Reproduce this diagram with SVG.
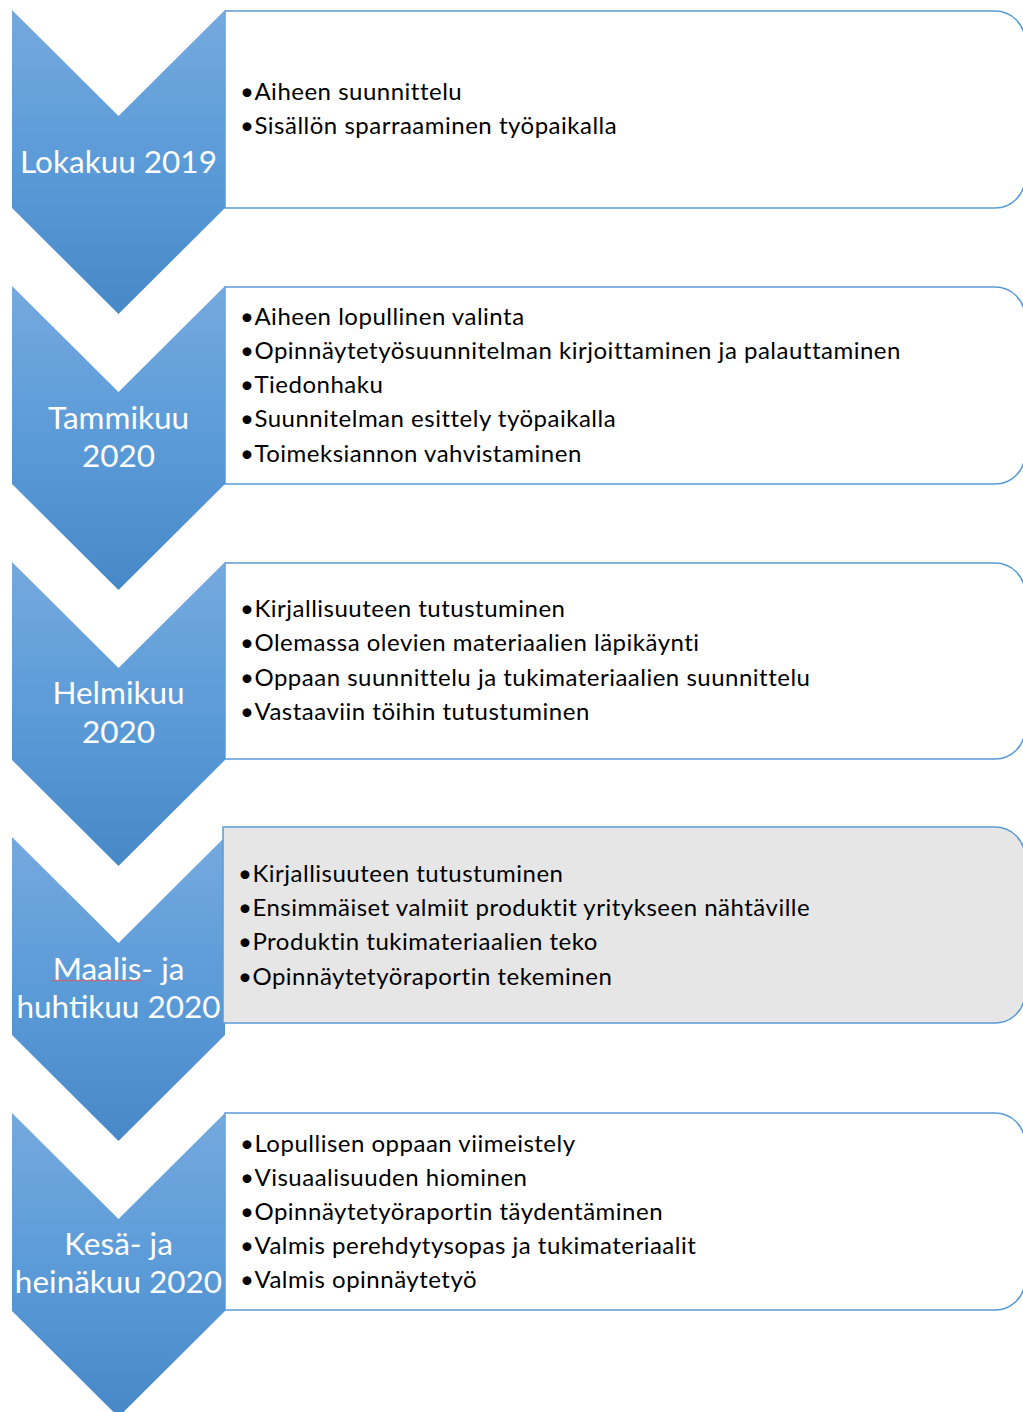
<svg xmlns="http://www.w3.org/2000/svg" width="1023" height="1412" viewBox="0 0 1023 1412">
<defs>
<linearGradient id="g" x1="0" y1="0" x2="0" y2="1">
<stop offset="0" stop-color="#75a9de"/>
<stop offset="0.5" stop-color="#5b9bd8"/>
<stop offset="1" stop-color="#4788c8"/>
</linearGradient>
<path id="chev" d="M0,0 L106.5,106 L213,0 L213,198 L106.5,304 L0,198 Z"/>
</defs>
<style>
.box{fill:#fff;stroke:#5b9bd5;stroke-width:1.5}
.box.gray{fill:#e7e6e6}
.chev{fill:url(#g)}
.lbl{font-family:Lato,"Liberation Sans",sans-serif;font-size:31.5px;fill:#fff;text-anchor:middle}
.item{font-family:Lato,"Liberation Sans",sans-serif;font-size:24px;letter-spacing:0.5px;fill:#000}
</style>
<g id="step1">
<path class="box" d="M225,11 H995 A30,30 0 0 1 1025,41 V178 A30,30 0 0 1 995,208 H225 Z"/>
<use href="#chev" class="chev" x="12" y="10"/>
<text class="lbl" x="118.5" y="173">Lokakuu 2019</text>
<text class="item" x="240" y="100">•Aiheen suunnittelu</text>
<text class="item" x="240" y="134">•Sisällön sparraaminen työpaikalla</text>
</g>
<g id="step2">
<path class="box" d="M225,287 H995 A30,30 0 0 1 1025,317 V454 A30,30 0 0 1 995,484 H225 Z"/>
<use href="#chev" class="chev" x="12" y="286"/>
<text class="lbl" x="118.5" y="429">Tammikuu</text>
<text class="lbl" x="118.5" y="467">2020</text>
<text class="item" x="240" y="325">•Aiheen lopullinen valinta</text>
<text class="item" x="240" y="359">•Opinnäytetyösuunnitelman kirjoittaminen ja palauttaminen</text>
<text class="item" x="240" y="393">•Tiedonhaku</text>
<text class="item" x="240" y="427">•Suunnitelman esittely työpaikalla</text>
<text class="item" x="240" y="462">•Toimeksiannon vahvistaminen</text>
</g>
<g id="step3">
<path class="box" d="M225,563 H995 A30,30 0 0 1 1025,593 V729 A30,30 0 0 1 995,759 H225 Z"/>
<use href="#chev" class="chev" x="12" y="562"/>
<text class="lbl" x="118.5" y="704">Helmikuu</text>
<text class="lbl" x="118.5" y="743">2020</text>
<text class="item" x="240" y="617">•Kirjallisuuteen tutustuminen</text>
<text class="item" x="240" y="651">•Olemassa olevien materiaalien läpikäynti</text>
<text class="item" x="240" y="686">•Oppaan suunnittelu ja tukimateriaalien suunnittelu</text>
<text class="item" x="240" y="720">•Vastaaviin töihin tutustuminen</text>
</g>
<g id="step4">
<use href="#chev" class="chev" x="12" y="837"/>
<path class="box gray" d="M223,827 H995 A30,30 0 0 1 1025,857 V993 A30,30 0 0 1 995,1023 H223 Z"/>
<text class="lbl" x="118.5" y="980">Maalis- ja</text>
<text class="lbl" x="118.5" y="1018">huhtikuu 2020</text>
<path d="M51,981 l2,-1 l2,1 l2,-1 l2,1 l2,-1 l2,1 l2,-1 l2,1 l2,-1 l2,1 l2,-1 l2,1 l2,-1 l2,1 l2,-1 l2,1 l2,-1 l2,1 l2,-1 l2,1 l2,-1 l2,1 l2,-1 l2,1 l2,-1 l2,1 l2,-1 l2,1 l2,-1 l2,1 l2,-1 l2,1 l2,-1 l2,1 l2,-1 l2,1 l2,-1 l2,1 l2,-1 l2,1 l2,-1 l2,1 l2,-1 l2,1 l2,-1" fill="none" stroke="#e05a5a" stroke-width="1"/>
<text class="item" x="238" y="882">•Kirjallisuuteen tutustuminen</text>
<text class="item" x="238" y="916">•Ensimmäiset valmiit produktit yritykseen nähtäville</text>
<text class="item" x="238" y="950">•Produktin tukimateriaalien teko</text>
<text class="item" x="238" y="985">•Opinnäytetyöraportin tekeminen</text>
</g>
<g id="step5">
<path class="box" d="M225,1113 H995 A30,30 0 0 1 1025,1143 V1280 A30,30 0 0 1 995,1310 H225 Z"/>
<use href="#chev" class="chev" x="12" y="1113"/>
<text class="lbl" x="118.5" y="1255">Kesä- ja</text>
<text class="lbl" x="118.5" y="1293">heinäkuu 2020</text>
<text class="item" x="240" y="1152">•Lopullisen oppaan viimeistely</text>
<text class="item" x="240" y="1186">•Visuaalisuuden hiominen</text>
<text class="item" x="240" y="1220">•Opinnäytetyöraportin täydentäminen</text>
<text class="item" x="240" y="1254">•Valmis perehdytysopas ja tukimateriaalit</text>
<text class="item" x="240" y="1288">•Valmis opinnäytetyö</text>
</g>
<g id="connectors"/>
</svg>
